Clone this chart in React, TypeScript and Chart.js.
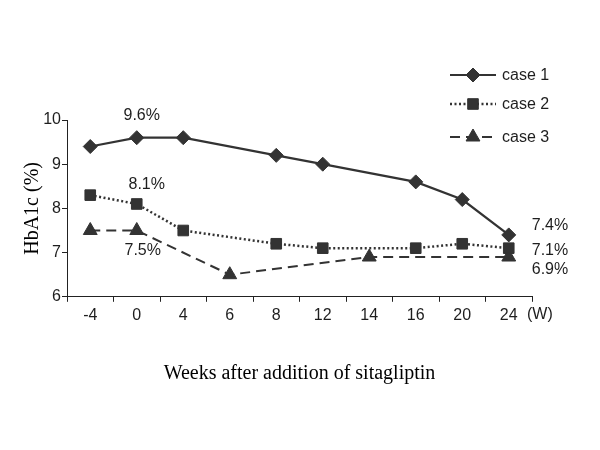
import React, { useEffect, useRef } from "react";
import { Chart, registerables } from "chart.js";
import { drawPoint } from "chart.js/helpers";
Chart.register(...registerables);

const weeks = ["-4", "0", "4", "6", "8", "12", "14", "16", "20", "24"];
const case1 = [9.4, 9.6, 9.6, null, 9.2, 9.0, null, 8.6, 8.2, 7.4];
const case2 = [8.3, 8.1, 7.5, null, 7.2, 7.1, null, 7.1, 7.2, 7.1];
const case3 = [7.5, 7.5, null, 6.5, null, null, 6.9, null, null, 6.9];
const seriesNames = ["case 1", "case 2", "case 3"];
const yMin = 6;
const yMax = 10;
const yTitle = "HbA1c (%)";
const xTitle = "Weeks after addition of sitagliptin";
const unitLabel = "(W)";
// value labels: [series index, category index, text]
const valueLabels: [number, number, string][] = [
  [0, 1, "9.6%"],
  [1, 1, "8.1%"],
  [2, 1, "7.5%"],
  [0, 9, "7.4%"],
  [1, 9, "7.1%"],
  [2, 9, "6.9%"],
];

const INK = "#333333";
const TEXT = "#1e1e1e";
const SANS = "'Liberation Sans', Arial, sans-serif";
const SERIF = "'Liberation Serif', 'Times New Roman', serif";

const labelOffsets: [number, number, CanvasTextAlign][] = [
  [5, -22, "center"],
  [10, -19, "center"],
  [6, 20, "center"],
  [23, -9, "left"],
  [23, 2, "left"],
  [23, 13, "left"],
];

const overlayPlugin = {
  id: "overlay",
  afterDraw(chart: any) {
    const ctx = chart.ctx;
    const xs = chart.scales.x;
    ctx.save();
    ctx.fillStyle = TEXT;
    ctx.font = `16px ${SANS}`;
    ctx.textBaseline = "middle";
    valueLabels.forEach(([s, i, text], k) => {
      const meta = chart.getDatasetMeta(s);
      const el = meta.data[i];
      if (!el) return;
      const [dx, dy, align] = labelOffsets[k];
      ctx.textAlign = align;
      ctx.fillText(text, el.x + dx, el.y + dy);
    });
    ctx.textAlign = "left";
    ctx.fillText(unitLabel, xs.right - 5, xs.top + 18);
    const rows = [75, 104, 137];
    chart.data.datasets.forEach((ds: any, i: number) => {
      const y = rows[i];
      ctx.save();
      ctx.strokeStyle = ds.borderColor;
      ctx.lineWidth = ds.borderWidth;
      ctx.setLineDash(ds.borderDash || []);
      ctx.beginPath();
      ctx.moveTo(450, y);
      ctx.lineTo(496, y);
      ctx.stroke();
      ctx.setLineDash([]);
      ctx.fillStyle = ds.pointBackgroundColor;
      ctx.strokeStyle = ds.pointBorderColor;
      ctx.lineWidth = 1;
      drawPoint(ctx, { pointStyle: ds.pointStyle, radius: ds.pointRadius, borderWidth: 1, rotation: 0 }, 473, y);
      ctx.restore();
      ctx.fillStyle = TEXT;
      ctx.textAlign = "left";
      ctx.fillText(seriesNames[i], 502, y + 1);
    });
    ctx.restore();
  },
};

export default function App() {
  const ref = useRef<HTMLCanvasElement | null>(null);
  useEffect(() => {
    if (!ref.current) return;
    const mk = (data: (number | null)[], name: string, dash: number[], style: string, r: number, w: number) => ({
      label: name,
      data,
      borderColor: INK,
      backgroundColor: INK,
      borderWidth: w,
      borderDash: dash,
      pointStyle: style,
      pointRadius: r,
      pointHoverRadius: r,
      pointBackgroundColor: INK,
      pointBorderColor: INK,
      pointBorderWidth: 1,
      spanGaps: true,
      tension: 0,
      clip: false,
    });
    const chart = new Chart(ref.current, {
      type: "line",
      data: {
        labels: weeks,
        datasets: [
          mk(case1, seriesNames[0], [], "rectRot", 7, 2.2),
          mk(case2, seriesNames[1], [2, 2.5], "rect", 7.5, 2.5),
          mk(case3, seriesNames[2], [10, 6], "triangle", 8, 2),
        ] as any,
      },
      options: {
        responsive: false,
        animation: false,
        devicePixelRatio: 1,
        layout: { padding: { left: 17, right: 68, top: 120, bottom: 60 } },
        plugins: { legend: { display: false }, tooltip: { enabled: false } },
        scales: {
          x: {
            type: "category",
            offset: true,
            grid: { offset: true, drawOnChartArea: false, drawTicks: true, tickLength: 5, color: "#222" },
            border: { display: true, color: "#222", width: 1 },
            ticks: { color: TEXT, font: { family: SANS, size: 16 }, padding: 4, maxRotation: 0, autoSkip: false },
            title: {
              display: true,
              text: xTitle,
              color: "#000",
              font: { family: SERIF, size: 20 },
              padding: { top: 33, bottom: 4 },
            },
          },
          y: {
            min: yMin,
            max: yMax,
            grid: { drawOnChartArea: false, drawTicks: true, tickLength: 5, color: "#222" },
            border: { display: true, color: "#222", width: 1 },
            ticks: { stepSize: 1, color: TEXT, font: { family: SANS, size: 16 }, padding: 1 },
            title: {
              display: true,
              text: yTitle,
              color: "#000",
              font: { family: SERIF, size: 20 },
              padding: { top: 4, bottom: 4 },
            },
            afterFit: (s: any) => {
              s.width = 50;
            },
          },
        },
      } as any,
      plugins: [overlayPlugin],
    });
    return () => chart.destroy();
  }, []);
  return (
    <div style={{ position: "absolute", left: 0, top: 0, width: 600, height: 450, background: "#fff" }}>
      <canvas ref={ref} width={600} height={450} />
    </div>
  );
}
